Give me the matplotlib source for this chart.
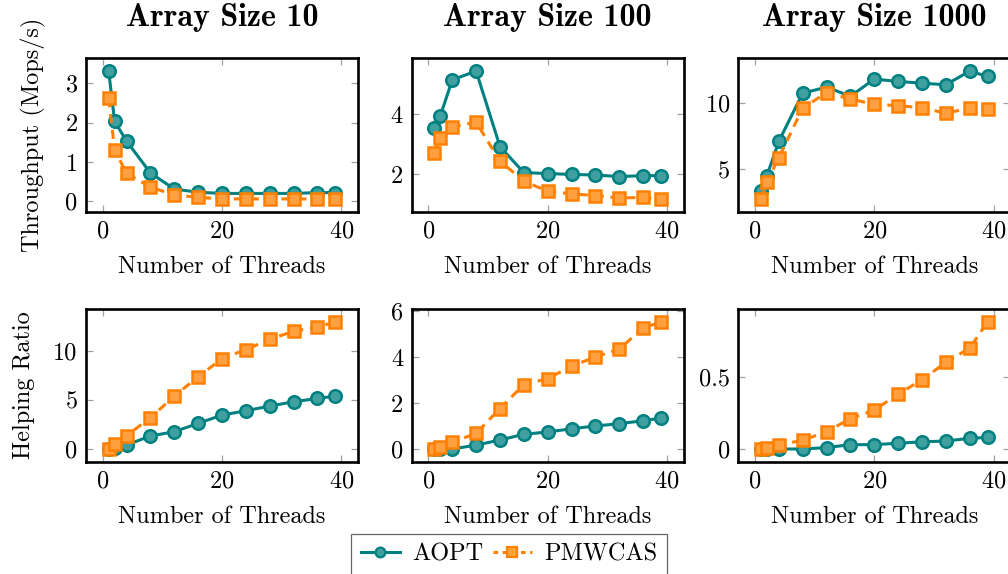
import numpy as np
import matplotlib
matplotlib.use('Agg')
import matplotlib.pyplot as plt
from matplotlib.lines import Line2D

plt.rcParams['font.family'] = ['cmr10', 'DejaVu Serif']
plt.rcParams['axes.formatter.use_mathtext'] = True
plt.rcParams['mathtext.fontset'] = 'cm'

threads = [1, 2, 4, 8, 12, 16, 20, 24, 28, 32, 36, 39]
sizes = ['10', '100', '1000']

# throughput (Mops/s)
tp_aopt_10 = [3.31, 2.03, 1.53, 0.72, 0.31, 0.23, 0.20, 0.20, 0.20, 0.20, 0.22, 0.22]
tp_pmw_10 = [2.62, 1.31, 0.71, 0.36, 0.16, 0.10, 0.06, 0.06, 0.06, 0.06, 0.06, 0.06]
tp_aopt_100 = [3.53, 3.94, 5.13, 5.42, 2.92, 2.06, 2.03, 2.00, 1.98, 1.93, 1.96, 1.96]
tp_pmw_100 = [2.72, 3.22, 3.58, 3.73, 2.44, 1.78, 1.44, 1.36, 1.30, 1.22, 1.24, 1.19]
tp_aopt_1000 = [3.30, 4.49, 7.11, 10.76, 11.22, 10.53, 11.83, 11.65, 11.52, 11.40, 12.44, 12.03]
tp_pmw_1000 = [2.72, 4.04, 5.84, 9.64, 10.79, 10.33, 9.90, 9.82, 9.64, 9.24, 9.62, 9.52]

# helping ratio
hr_aopt_10 = [0.0, 0.1, 0.41, 1.33, 1.77, 2.62, 3.47, 3.91, 4.39, 4.83, 5.17, 5.41]
hr_pmw_10 = [0.0, 0.51, 1.36, 3.20, 5.41, 7.38, 9.25, 10.17, 11.22, 12.04, 12.48, 12.99]
hr_aopt_100 = [0.0, 0.0, 0.0, 0.17, 0.39, 0.64, 0.74, 0.88, 1.00, 1.10, 1.23, 1.34]
hr_pmw_100 = [0.0, 0.10, 0.29, 0.68, 1.76, 2.80, 3.06, 3.60, 4.00, 4.34, 5.26, 5.52]
hr_aopt_1000 = [0.0, 0.0, 0.0, 0.0, 0.01, 0.03, 0.03, 0.04, 0.05, 0.055, 0.074, 0.08]
hr_pmw_1000 = [0.0, 0.01, 0.03, 0.06, 0.12, 0.21, 0.27, 0.38, 0.48, 0.60, 0.70, 0.88]

throughput = [(tp_aopt_10, tp_pmw_10), (tp_aopt_100, tp_pmw_100), (tp_aopt_1000, tp_pmw_1000)]
helping = [(hr_aopt_10, hr_pmw_10), (hr_aopt_100, hr_pmw_100), (hr_aopt_1000, hr_pmw_1000)]

yticks_top = [[0, 1, 2, 3], [2, 4], [5, 10]]
yticks_bot = [[0, 5, 10], [0, 2, 4, 6], [0, 0.5]]
ytlabels_bot = [['0', '5', '10'], ['0', '2', '4', '6'], ['0', '0.5']]

teal, teal_fill = '#008080', '#40a0a0'
orange, orange_fill = '#ff8000', '#ffa040'
fs = 17.5

fig = plt.figure(figsize=(10.08, 5.74), dpi=100)
W, H = 1008., 574.
lefts = [86, 411.7, 738.3]
aw = 272.
rows = [(58.3, 211.7), (309.3, 461.7)]


def style_axis(ax):
    for s in ax.spines.values():
        s.set_linewidth(1.9)
        s.set_color('black')
    ax.tick_params(direction='in', length=5, width=0.9, color='#a0a0a0',
                   top=True, right=True, labelsize=fs, labelcolor='black', pad=6)
    ax.margins(x=0.1, y=0.1)
    ax.set_xticks([0, 20, 40])
    ax.set_xlabel('Number of Threads', fontsize=fs, labelpad=10)


def draw(ax, aopt, pmw):
    ax.plot(threads, aopt, color=teal, lw=2.2, marker='o', ms=9,
            mfc=teal_fill, mec=teal, mew=1.8, zorder=3)
    ax.plot(threads, pmw, color=orange, lw=2.2, ls=(0, (3, 2.2)), marker='s', ms=9,
            mfc=orange_fill, mec=orange, mew=1.8, zorder=3)


for r, (top, bot) in enumerate(rows):
    for c in range(3):
        ax = fig.add_axes([lefts[c] / W, 1 - bot / H, aw / W, (bot - top) / H])
        if r == 0:
            draw(ax, *throughput[c])
            ax.set_yticks(yticks_top[c])
            ax.set_title('Array Size ' + sizes[c], fontsize=23, family='cmb10', pad=23)
            if c == 0:
                ax.set_ylabel('Throughput (Mops/s)', fontsize=fs, labelpad=13)
        else:
            draw(ax, *helping[c])
            ax.set_yticks(yticks_bot[c])
            ax.set_yticklabels(ytlabels_bot[c])
            if c == 0:
                ax.set_ylabel('Helping Ratio', fontsize=fs, labelpad=13)
        style_axis(ax)

handles = [
    Line2D([], [], color=teal, lw=2.2, marker='o', ms=7, mfc=teal_fill, mec=teal, mew=1.6),
    Line2D([], [], color=orange, lw=2.2, ls=(0, (1.5, 1.5)), marker='s', ms=7,
           mfc=orange_fill, mec=orange, mew=1.6),
]
leg = fig.legend(handles, ['AOPT', 'PMWCAS'], loc='upper center', ncol=2,
                 bbox_to_anchor=(509 / W, 1 - 534 / H), fontsize=fs, frameon=True,
                 fancybox=False, edgecolor='#404040', handlelength=1.6, columnspacing=0.4,
                 handletextpad=0.5, borderpad=0.4, borderaxespad=0)
leg.get_frame().set_linewidth(0.9)

fig.savefig('out.png', dpi=100)
